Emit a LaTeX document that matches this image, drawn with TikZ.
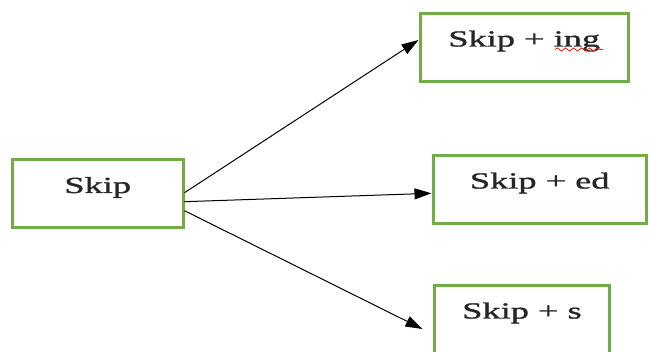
\documentclass[tikz,border=0pt]{standalone}
\usepackage{fontspec}
\setmainfont[FakeStretch=1.58,FakeBold=1.3]{Liberation Serif}
\usetikzlibrary{arrows.meta,decorations.pathmorphing}
\definecolor{boxgreen}{HTML}{70AD47}
\definecolor{squig}{RGB}{230,30,30}
\begin{document}
\begin{tikzpicture}[x=1pt,y=-1pt,
  wordbox/.style={draw=boxgreen, line width=3pt, rectangle, inner sep=0pt,
    text height=33pt, text depth=35pt, align=center, text=black!85,
    font=\fontsize{23}{26}\selectfont},
  arr/.style={line width=1pt, -{Triangle[length=17pt,width=11pt]}}]
\useasboundingbox (0,0) rectangle (649,352);
\clip (0,0) rectangle (649,352);
\node[wordbox, minimum width=170.5pt] (skip) at (97.75,194) {Skip};
\node[wordbox, minimum width=208.5pt] (ing) at (524.25,47.5) {Skip + ing};
\node[wordbox, minimum width=213.5pt] (ed) at (539.75,189.5) {Skip + ed};
\node[wordbox, minimum width=175pt] (s) at (522,319.5) {Skip + s};
\coordinate (sEnd) at ([shift={(-10.5,9.5)}]s.west);
\draw[arr] ([shift={(0,-1.3)}]skip.east) -- ([shift={(0,-7.5)}]ing.west);
\draw[arr] ([shift={(0,7.7)}]skip.east) -- ([shift={(0,3.8)}]ed.west);
\draw[arr] ([shift={(0,16.7)}]skip.east) -- (sEnd);
\draw[squig, line width=0.8pt, decorate, decoration={snake, amplitude=1.6pt, segment length=8pt}]
  ([shift={(30.75,2)}]ing.center) -- ([shift={(78.75,2)}]ing.center);
\end{tikzpicture}
\end{document}
